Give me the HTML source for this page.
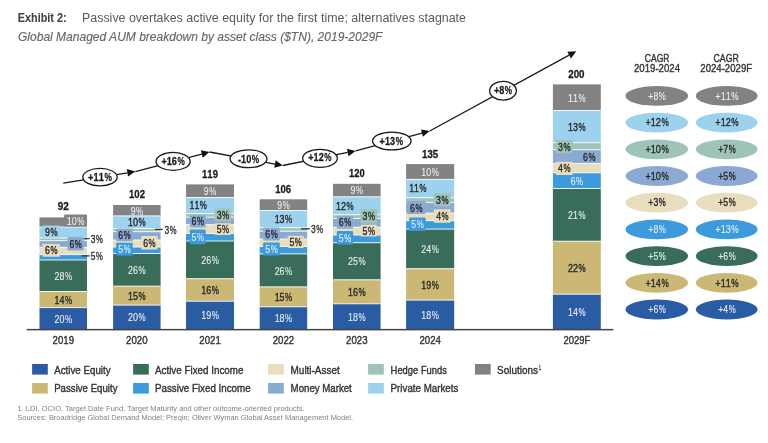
<!DOCTYPE html>
<html><head><meta charset="utf-8"><style>html,body{margin:0;padding:0;background:#fff}svg{display:block}#w{will-change:transform}text{font-family:"Liberation Sans",sans-serif;stroke-linejoin:round}</style></head>
<body><div id="w"><svg width="768" height="443" viewBox="0 0 768 443">
<g font-family="Liberation Sans">
<text x="17.80" y="21.70" font-size="12" fill="#444" font-weight="bold" stroke="#444" stroke-width="0.1" textLength="48.81" lengthAdjust="spacingAndGlyphs">Exhibit 2:</text>
<text x="82.00" y="21.70" font-size="12.2" fill="#5a5a5a" textLength="383.98" lengthAdjust="spacingAndGlyphs">Passive overtakes active equity for the first time; alternatives stagnate</text>
<text x="18.00" y="40.80" font-size="12.6" fill="#666" font-style="italic" stroke="#666" stroke-width="0.15" textLength="364.42" lengthAdjust="spacingAndGlyphs">Global Managed AUM breakdown by asset class ($TN), 2019-2029F</text>
<rect x="39.50" y="217.40" width="47.50" height="9.60" fill="#828282"/>
<rect x="39.50" y="227.00" width="47.50" height="11.00" fill="#9DD2EE"/>
<rect x="39.50" y="238.00" width="47.50" height="2.60" fill="#9EC4B8"/>
<rect x="39.50" y="240.60" width="47.50" height="6.80" fill="#8AAAD3"/>
<rect x="39.50" y="247.40" width="47.50" height="7.20" fill="#E8DEBE"/>
<rect x="39.50" y="254.60" width="47.50" height="5.40" fill="#3C9BDD"/>
<rect x="39.50" y="260.00" width="47.50" height="31.50" fill="#3A6C5A"/>
<rect x="39.50" y="291.50" width="47.50" height="16.10" fill="#CBB874"/>
<rect x="39.50" y="307.60" width="47.50" height="21.80" fill="#2A5CA4"/>
<rect x="39.50" y="226.50" width="47.50" height="1" fill="#fff" opacity="0.85"/>
<rect x="39.50" y="237.50" width="47.50" height="1" fill="#fff" opacity="0.85"/>
<rect x="39.50" y="240.10" width="47.50" height="1" fill="#fff" opacity="0.85"/>
<rect x="39.50" y="246.90" width="47.50" height="1" fill="#fff" opacity="0.85"/>
<rect x="39.50" y="254.10" width="47.50" height="1" fill="#fff" opacity="0.85"/>
<rect x="39.50" y="259.50" width="47.50" height="1" fill="#fff" opacity="0.85"/>
<rect x="39.50" y="291.00" width="47.50" height="1" fill="#fff" opacity="0.85"/>
<rect x="39.50" y="307.10" width="47.50" height="1" fill="#fff" opacity="0.85"/>
<rect x="113.10" y="205.00" width="47.50" height="10.90" fill="#828282"/>
<rect x="113.10" y="215.90" width="47.50" height="12.60" fill="#9DD2EE"/>
<rect x="113.10" y="228.50" width="47.50" height="3.20" fill="#9EC4B8"/>
<rect x="113.10" y="231.70" width="47.50" height="8.30" fill="#8AAAD3"/>
<rect x="113.10" y="240.00" width="47.50" height="7.00" fill="#E8DEBE"/>
<rect x="113.10" y="247.00" width="47.50" height="6.50" fill="#3C9BDD"/>
<rect x="113.10" y="253.50" width="47.50" height="32.60" fill="#3A6C5A"/>
<rect x="113.10" y="286.10" width="47.50" height="19.00" fill="#CBB874"/>
<rect x="113.10" y="305.10" width="47.50" height="24.30" fill="#2A5CA4"/>
<rect x="113.10" y="215.40" width="47.50" height="1" fill="#fff" opacity="0.85"/>
<rect x="113.10" y="228.00" width="47.50" height="1" fill="#fff" opacity="0.85"/>
<rect x="113.10" y="231.20" width="47.50" height="1" fill="#fff" opacity="0.85"/>
<rect x="113.10" y="239.50" width="47.50" height="1" fill="#fff" opacity="0.85"/>
<rect x="113.10" y="246.50" width="47.50" height="1" fill="#fff" opacity="0.85"/>
<rect x="113.10" y="253.00" width="47.50" height="1" fill="#fff" opacity="0.85"/>
<rect x="113.10" y="285.60" width="47.50" height="1" fill="#fff" opacity="0.85"/>
<rect x="113.10" y="304.60" width="47.50" height="1" fill="#fff" opacity="0.85"/>
<rect x="186.00" y="184.40" width="48.00" height="13.10" fill="#828282"/>
<rect x="186.00" y="197.50" width="48.00" height="16.10" fill="#9DD2EE"/>
<rect x="186.00" y="213.60" width="48.00" height="3.60" fill="#9EC4B8"/>
<rect x="186.00" y="217.20" width="48.00" height="7.50" fill="#8AAAD3"/>
<rect x="186.00" y="224.70" width="48.00" height="8.80" fill="#E8DEBE"/>
<rect x="186.00" y="233.50" width="48.00" height="7.50" fill="#3C9BDD"/>
<rect x="186.00" y="241.00" width="48.00" height="37.70" fill="#3A6C5A"/>
<rect x="186.00" y="278.70" width="48.00" height="22.50" fill="#CBB874"/>
<rect x="186.00" y="301.20" width="48.00" height="28.20" fill="#2A5CA4"/>
<rect x="186.00" y="197.00" width="48.00" height="1" fill="#fff" opacity="0.85"/>
<rect x="186.00" y="213.10" width="48.00" height="1" fill="#fff" opacity="0.85"/>
<rect x="186.00" y="216.70" width="48.00" height="1" fill="#fff" opacity="0.85"/>
<rect x="186.00" y="224.20" width="48.00" height="1" fill="#fff" opacity="0.85"/>
<rect x="186.00" y="233.00" width="48.00" height="1" fill="#fff" opacity="0.85"/>
<rect x="186.00" y="240.50" width="48.00" height="1" fill="#fff" opacity="0.85"/>
<rect x="186.00" y="278.20" width="48.00" height="1" fill="#fff" opacity="0.85"/>
<rect x="186.00" y="300.70" width="48.00" height="1" fill="#fff" opacity="0.85"/>
<rect x="259.70" y="199.30" width="47.50" height="11.20" fill="#828282"/>
<rect x="259.70" y="210.50" width="47.50" height="17.20" fill="#9DD2EE"/>
<rect x="259.70" y="227.70" width="47.50" height="3.50" fill="#9EC4B8"/>
<rect x="259.70" y="231.20" width="47.50" height="7.80" fill="#8AAAD3"/>
<rect x="259.70" y="239.00" width="47.50" height="7.50" fill="#E8DEBE"/>
<rect x="259.70" y="246.50" width="47.50" height="7.40" fill="#3C9BDD"/>
<rect x="259.70" y="253.90" width="47.50" height="33.00" fill="#3A6C5A"/>
<rect x="259.70" y="286.90" width="47.50" height="19.90" fill="#CBB874"/>
<rect x="259.70" y="306.80" width="47.50" height="22.60" fill="#2A5CA4"/>
<rect x="259.70" y="210.00" width="47.50" height="1" fill="#fff" opacity="0.85"/>
<rect x="259.70" y="227.20" width="47.50" height="1" fill="#fff" opacity="0.85"/>
<rect x="259.70" y="230.70" width="47.50" height="1" fill="#fff" opacity="0.85"/>
<rect x="259.70" y="238.50" width="47.50" height="1" fill="#fff" opacity="0.85"/>
<rect x="259.70" y="246.00" width="47.50" height="1" fill="#fff" opacity="0.85"/>
<rect x="259.70" y="253.40" width="47.50" height="1" fill="#fff" opacity="0.85"/>
<rect x="259.70" y="286.40" width="47.50" height="1" fill="#fff" opacity="0.85"/>
<rect x="259.70" y="306.30" width="47.50" height="1" fill="#fff" opacity="0.85"/>
<rect x="333.00" y="183.80" width="47.60" height="13.00" fill="#828282"/>
<rect x="333.00" y="196.80" width="47.60" height="17.90" fill="#9DD2EE"/>
<rect x="333.00" y="214.70" width="47.60" height="3.80" fill="#9EC4B8"/>
<rect x="333.00" y="218.50" width="47.60" height="8.80" fill="#8AAAD3"/>
<rect x="333.00" y="227.30" width="47.60" height="7.70" fill="#E8DEBE"/>
<rect x="333.00" y="235.00" width="47.60" height="7.70" fill="#3C9BDD"/>
<rect x="333.00" y="242.70" width="47.60" height="37.10" fill="#3A6C5A"/>
<rect x="333.00" y="279.80" width="47.60" height="24.00" fill="#CBB874"/>
<rect x="333.00" y="303.80" width="47.60" height="25.60" fill="#2A5CA4"/>
<rect x="333.00" y="196.30" width="47.60" height="1" fill="#fff" opacity="0.85"/>
<rect x="333.00" y="214.20" width="47.60" height="1" fill="#fff" opacity="0.85"/>
<rect x="333.00" y="218.00" width="47.60" height="1" fill="#fff" opacity="0.85"/>
<rect x="333.00" y="226.80" width="47.60" height="1" fill="#fff" opacity="0.85"/>
<rect x="333.00" y="234.50" width="47.60" height="1" fill="#fff" opacity="0.85"/>
<rect x="333.00" y="242.20" width="47.60" height="1" fill="#fff" opacity="0.85"/>
<rect x="333.00" y="279.30" width="47.60" height="1" fill="#fff" opacity="0.85"/>
<rect x="333.00" y="303.30" width="47.60" height="1" fill="#fff" opacity="0.85"/>
<rect x="406.10" y="164.10" width="48.10" height="15.30" fill="#828282"/>
<rect x="406.10" y="179.40" width="48.10" height="18.30" fill="#9DD2EE"/>
<rect x="406.10" y="197.70" width="48.10" height="4.70" fill="#9EC4B8"/>
<rect x="406.10" y="202.40" width="48.10" height="10.70" fill="#8AAAD3"/>
<rect x="406.10" y="213.10" width="48.10" height="7.60" fill="#E8DEBE"/>
<rect x="406.10" y="220.70" width="48.10" height="8.40" fill="#3C9BDD"/>
<rect x="406.10" y="229.10" width="48.10" height="39.60" fill="#3A6C5A"/>
<rect x="406.10" y="268.70" width="48.10" height="31.40" fill="#CBB874"/>
<rect x="406.10" y="300.10" width="48.10" height="29.30" fill="#2A5CA4"/>
<rect x="406.10" y="178.90" width="48.10" height="1" fill="#fff" opacity="0.85"/>
<rect x="406.10" y="197.20" width="48.10" height="1" fill="#fff" opacity="0.85"/>
<rect x="406.10" y="201.90" width="48.10" height="1" fill="#fff" opacity="0.85"/>
<rect x="406.10" y="212.60" width="48.10" height="1" fill="#fff" opacity="0.85"/>
<rect x="406.10" y="220.20" width="48.10" height="1" fill="#fff" opacity="0.85"/>
<rect x="406.10" y="228.60" width="48.10" height="1" fill="#fff" opacity="0.85"/>
<rect x="406.10" y="268.20" width="48.10" height="1" fill="#fff" opacity="0.85"/>
<rect x="406.10" y="299.60" width="48.10" height="1" fill="#fff" opacity="0.85"/>
<rect x="552.90" y="84.40" width="47.90" height="26.10" fill="#828282"/>
<rect x="552.90" y="110.50" width="47.90" height="32.20" fill="#9DD2EE"/>
<rect x="552.90" y="142.70" width="47.90" height="7.00" fill="#9EC4B8"/>
<rect x="552.90" y="149.70" width="47.90" height="13.80" fill="#8AAAD3"/>
<rect x="552.90" y="163.50" width="47.90" height="9.30" fill="#E8DEBE"/>
<rect x="552.90" y="172.80" width="47.90" height="15.70" fill="#3C9BDD"/>
<rect x="552.90" y="188.50" width="47.90" height="52.70" fill="#3A6C5A"/>
<rect x="552.90" y="241.20" width="47.90" height="53.00" fill="#CBB874"/>
<rect x="552.90" y="294.20" width="47.90" height="35.20" fill="#2A5CA4"/>
<rect x="552.90" y="110.00" width="47.90" height="1" fill="#fff" opacity="0.85"/>
<rect x="552.90" y="142.20" width="47.90" height="1" fill="#fff" opacity="0.85"/>
<rect x="552.90" y="149.20" width="47.90" height="1" fill="#fff" opacity="0.85"/>
<rect x="552.90" y="163.00" width="47.90" height="1" fill="#fff" opacity="0.85"/>
<rect x="552.90" y="172.30" width="47.90" height="1" fill="#fff" opacity="0.85"/>
<rect x="552.90" y="188.00" width="47.90" height="1" fill="#fff" opacity="0.85"/>
<rect x="552.90" y="240.70" width="47.90" height="1" fill="#fff" opacity="0.85"/>
<rect x="552.90" y="293.70" width="47.90" height="1" fill="#fff" opacity="0.85"/>
<rect x="26.80" y="328.90" width="586.60" height="1.50" fill="#444"/>
<text x="57.70" y="210.00" font-size="11" fill="#1a1a1a" font-weight="bold" stroke="#1a1a1a" stroke-width="0.3" textLength="5.56" lengthAdjust="spacingAndGlyphs">9</text>
<text x="63.26" y="210.00" font-size="11" fill="#1a1a1a" font-weight="bold" stroke="#1a1a1a" stroke-width="0.3" textLength="5.56" lengthAdjust="spacingAndGlyphs">2</text>
<text x="129.00" y="197.70" font-size="11" fill="#1a1a1a" font-weight="bold" stroke="#1a1a1a" stroke-width="0.3" textLength="5.34" lengthAdjust="spacingAndGlyphs">1</text>
<text x="134.34" y="197.70" font-size="11" fill="#1a1a1a" font-weight="bold" stroke="#1a1a1a" stroke-width="0.3" textLength="5.34" lengthAdjust="spacingAndGlyphs">0</text>
<text x="139.67" y="197.70" font-size="11" fill="#1a1a1a" font-weight="bold" stroke="#1a1a1a" stroke-width="0.3" textLength="5.34" lengthAdjust="spacingAndGlyphs">2</text>
<text x="202.10" y="177.60" font-size="11" fill="#1a1a1a" font-weight="bold" stroke="#1a1a1a" stroke-width="0.3" textLength="5.27" lengthAdjust="spacingAndGlyphs">1</text>
<text x="207.37" y="177.60" font-size="11" fill="#1a1a1a" font-weight="bold" stroke="#1a1a1a" stroke-width="0.3" textLength="5.27" lengthAdjust="spacingAndGlyphs">1</text>
<text x="212.64" y="177.60" font-size="11" fill="#1a1a1a" font-weight="bold" stroke="#1a1a1a" stroke-width="0.3" textLength="5.27" lengthAdjust="spacingAndGlyphs">9</text>
<text x="275.20" y="192.90" font-size="11" fill="#1a1a1a" font-weight="bold" stroke="#1a1a1a" stroke-width="0.3" textLength="5.30" lengthAdjust="spacingAndGlyphs">1</text>
<text x="280.50" y="192.90" font-size="11" fill="#1a1a1a" font-weight="bold" stroke="#1a1a1a" stroke-width="0.3" textLength="5.30" lengthAdjust="spacingAndGlyphs">0</text>
<text x="285.81" y="192.90" font-size="11" fill="#1a1a1a" font-weight="bold" stroke="#1a1a1a" stroke-width="0.3" textLength="5.30" lengthAdjust="spacingAndGlyphs">6</text>
<text x="349.10" y="176.60" font-size="11" fill="#1a1a1a" font-weight="bold" stroke="#1a1a1a" stroke-width="0.3" textLength="5.20" lengthAdjust="spacingAndGlyphs">1</text>
<text x="354.30" y="176.60" font-size="11" fill="#1a1a1a" font-weight="bold" stroke="#1a1a1a" stroke-width="0.3" textLength="5.20" lengthAdjust="spacingAndGlyphs">2</text>
<text x="359.51" y="176.60" font-size="11" fill="#1a1a1a" font-weight="bold" stroke="#1a1a1a" stroke-width="0.3" textLength="5.20" lengthAdjust="spacingAndGlyphs">0</text>
<text x="422.00" y="158.00" font-size="11" fill="#1a1a1a" font-weight="bold" stroke="#1a1a1a" stroke-width="0.3" textLength="5.40" lengthAdjust="spacingAndGlyphs">1</text>
<text x="427.40" y="158.00" font-size="11" fill="#1a1a1a" font-weight="bold" stroke="#1a1a1a" stroke-width="0.3" textLength="5.40" lengthAdjust="spacingAndGlyphs">3</text>
<text x="432.81" y="158.00" font-size="11" fill="#1a1a1a" font-weight="bold" stroke="#1a1a1a" stroke-width="0.3" textLength="5.40" lengthAdjust="spacingAndGlyphs">5</text>
<text x="568.20" y="78.40" font-size="11" fill="#1a1a1a" font-weight="bold" stroke="#1a1a1a" stroke-width="0.3" textLength="5.44" lengthAdjust="spacingAndGlyphs">2</text>
<text x="573.64" y="78.40" font-size="11" fill="#1a1a1a" font-weight="bold" stroke="#1a1a1a" stroke-width="0.3" textLength="5.44" lengthAdjust="spacingAndGlyphs">0</text>
<text x="579.07" y="78.40" font-size="11" fill="#1a1a1a" font-weight="bold" stroke="#1a1a1a" stroke-width="0.3" textLength="5.44" lengthAdjust="spacingAndGlyphs">0</text>
<text x="52.50" y="343.90" font-size="11.4" fill="#333" stroke="#333" stroke-width="0.4" textLength="5.38" lengthAdjust="spacingAndGlyphs">2</text>
<text x="57.88" y="343.90" font-size="11.4" fill="#333" stroke="#333" stroke-width="0.4" textLength="5.38" lengthAdjust="spacingAndGlyphs">0</text>
<text x="63.26" y="343.90" font-size="11.4" fill="#333" stroke="#333" stroke-width="0.4" textLength="5.38" lengthAdjust="spacingAndGlyphs">1</text>
<text x="68.63" y="343.90" font-size="11.4" fill="#333" stroke="#333" stroke-width="0.4" textLength="5.38" lengthAdjust="spacingAndGlyphs">9</text>
<text x="126.10" y="343.90" font-size="11.4" fill="#333" stroke="#333" stroke-width="0.4" textLength="5.38" lengthAdjust="spacingAndGlyphs">2</text>
<text x="131.48" y="343.90" font-size="11.4" fill="#333" stroke="#333" stroke-width="0.4" textLength="5.38" lengthAdjust="spacingAndGlyphs">0</text>
<text x="136.86" y="343.90" font-size="11.4" fill="#333" stroke="#333" stroke-width="0.4" textLength="5.38" lengthAdjust="spacingAndGlyphs">2</text>
<text x="142.23" y="343.90" font-size="11.4" fill="#333" stroke="#333" stroke-width="0.4" textLength="5.38" lengthAdjust="spacingAndGlyphs">0</text>
<text x="199.25" y="343.90" font-size="11.4" fill="#333" stroke="#333" stroke-width="0.4" textLength="5.38" lengthAdjust="spacingAndGlyphs">2</text>
<text x="204.63" y="343.90" font-size="11.4" fill="#333" stroke="#333" stroke-width="0.4" textLength="5.38" lengthAdjust="spacingAndGlyphs">0</text>
<text x="210.01" y="343.90" font-size="11.4" fill="#333" stroke="#333" stroke-width="0.4" textLength="5.38" lengthAdjust="spacingAndGlyphs">2</text>
<text x="215.38" y="343.90" font-size="11.4" fill="#333" stroke="#333" stroke-width="0.4" textLength="5.38" lengthAdjust="spacingAndGlyphs">1</text>
<text x="272.70" y="343.90" font-size="11.4" fill="#333" stroke="#333" stroke-width="0.4" textLength="5.38" lengthAdjust="spacingAndGlyphs">2</text>
<text x="278.08" y="343.90" font-size="11.4" fill="#333" stroke="#333" stroke-width="0.4" textLength="5.38" lengthAdjust="spacingAndGlyphs">0</text>
<text x="283.46" y="343.90" font-size="11.4" fill="#333" stroke="#333" stroke-width="0.4" textLength="5.38" lengthAdjust="spacingAndGlyphs">2</text>
<text x="288.83" y="343.90" font-size="11.4" fill="#333" stroke="#333" stroke-width="0.4" textLength="5.38" lengthAdjust="spacingAndGlyphs">2</text>
<text x="346.05" y="343.90" font-size="11.4" fill="#333" stroke="#333" stroke-width="0.4" textLength="5.38" lengthAdjust="spacingAndGlyphs">2</text>
<text x="351.43" y="343.90" font-size="11.4" fill="#333" stroke="#333" stroke-width="0.4" textLength="5.38" lengthAdjust="spacingAndGlyphs">0</text>
<text x="356.81" y="343.90" font-size="11.4" fill="#333" stroke="#333" stroke-width="0.4" textLength="5.38" lengthAdjust="spacingAndGlyphs">2</text>
<text x="362.18" y="343.90" font-size="11.4" fill="#333" stroke="#333" stroke-width="0.4" textLength="5.38" lengthAdjust="spacingAndGlyphs">3</text>
<text x="419.40" y="343.90" font-size="11.4" fill="#333" stroke="#333" stroke-width="0.4" textLength="5.38" lengthAdjust="spacingAndGlyphs">2</text>
<text x="424.78" y="343.90" font-size="11.4" fill="#333" stroke="#333" stroke-width="0.4" textLength="5.38" lengthAdjust="spacingAndGlyphs">0</text>
<text x="430.16" y="343.90" font-size="11.4" fill="#333" stroke="#333" stroke-width="0.4" textLength="5.38" lengthAdjust="spacingAndGlyphs">2</text>
<text x="435.53" y="343.90" font-size="11.4" fill="#333" stroke="#333" stroke-width="0.4" textLength="5.38" lengthAdjust="spacingAndGlyphs">4</text>
<text x="563.45" y="343.90" font-size="11.4" fill="#333" stroke="#333" stroke-width="0.4" textLength="5.26" lengthAdjust="spacingAndGlyphs">2</text>
<text x="568.71" y="343.90" font-size="11.4" fill="#333" stroke="#333" stroke-width="0.4" textLength="5.26" lengthAdjust="spacingAndGlyphs">0</text>
<text x="573.97" y="343.90" font-size="11.4" fill="#333" stroke="#333" stroke-width="0.4" textLength="5.26" lengthAdjust="spacingAndGlyphs">2</text>
<text x="579.22" y="343.90" font-size="11.4" fill="#333" stroke="#333" stroke-width="0.4" textLength="5.26" lengthAdjust="spacingAndGlyphs">9</text>
<text x="584.48" y="343.90" font-size="11.4" fill="#333" stroke="#333" stroke-width="0.4" textLength="5.78" lengthAdjust="spacingAndGlyphs">F</text>
<text x="54.45" y="279.85" font-size="11.4" fill="#e6eef5" stroke="#e6eef5" stroke-width="0.12" textLength="4.95" lengthAdjust="spacingAndGlyphs">2</text>
<text x="59.40" y="279.85" font-size="11.4" fill="#e6eef5" stroke="#e6eef5" stroke-width="0.12" textLength="4.95" lengthAdjust="spacingAndGlyphs">8</text>
<text x="64.92" y="279.85" font-size="11.4" fill="#e6eef5" stroke="#e6eef5" stroke-width="0.12" textLength="7.13" lengthAdjust="spacingAndGlyphs">%</text>
<text x="54.45" y="303.65" font-size="11.4" fill="#2b2b2b" stroke="#2b2b2b" stroke-width="0.4" textLength="4.95" lengthAdjust="spacingAndGlyphs">1</text>
<text x="59.40" y="303.65" font-size="11.4" fill="#2b2b2b" stroke="#2b2b2b" stroke-width="0.4" textLength="4.95" lengthAdjust="spacingAndGlyphs">4</text>
<text x="64.92" y="303.65" font-size="11.4" fill="#2b2b2b" stroke="#2b2b2b" stroke-width="0.4" textLength="7.13" lengthAdjust="spacingAndGlyphs">%</text>
<text x="54.45" y="322.60" font-size="11.4" fill="#e6eef5" stroke="#e6eef5" stroke-width="0.12" textLength="4.95" lengthAdjust="spacingAndGlyphs">2</text>
<text x="59.40" y="322.60" font-size="11.4" fill="#e6eef5" stroke="#e6eef5" stroke-width="0.12" textLength="4.95" lengthAdjust="spacingAndGlyphs">0</text>
<text x="64.92" y="322.60" font-size="11.4" fill="#e6eef5" stroke="#e6eef5" stroke-width="0.12" textLength="7.13" lengthAdjust="spacingAndGlyphs">%</text>
<text x="128.05" y="273.90" font-size="11.4" fill="#e6eef5" stroke="#e6eef5" stroke-width="0.12" textLength="4.95" lengthAdjust="spacingAndGlyphs">2</text>
<text x="133.00" y="273.90" font-size="11.4" fill="#e6eef5" stroke="#e6eef5" stroke-width="0.12" textLength="4.95" lengthAdjust="spacingAndGlyphs">6</text>
<text x="138.52" y="273.90" font-size="11.4" fill="#e6eef5" stroke="#e6eef5" stroke-width="0.12" textLength="7.13" lengthAdjust="spacingAndGlyphs">%</text>
<text x="128.05" y="299.70" font-size="11.4" fill="#2b2b2b" stroke="#2b2b2b" stroke-width="0.4" textLength="4.95" lengthAdjust="spacingAndGlyphs">1</text>
<text x="133.00" y="299.70" font-size="11.4" fill="#2b2b2b" stroke="#2b2b2b" stroke-width="0.4" textLength="4.95" lengthAdjust="spacingAndGlyphs">5</text>
<text x="138.52" y="299.70" font-size="11.4" fill="#2b2b2b" stroke="#2b2b2b" stroke-width="0.4" textLength="7.13" lengthAdjust="spacingAndGlyphs">%</text>
<text x="128.05" y="321.35" font-size="11.4" fill="#e6eef5" stroke="#e6eef5" stroke-width="0.12" textLength="4.95" lengthAdjust="spacingAndGlyphs">2</text>
<text x="133.00" y="321.35" font-size="11.4" fill="#e6eef5" stroke="#e6eef5" stroke-width="0.12" textLength="4.95" lengthAdjust="spacingAndGlyphs">0</text>
<text x="138.52" y="321.35" font-size="11.4" fill="#e6eef5" stroke="#e6eef5" stroke-width="0.12" textLength="7.13" lengthAdjust="spacingAndGlyphs">%</text>
<text x="201.20" y="263.95" font-size="11.4" fill="#e6eef5" stroke="#e6eef5" stroke-width="0.12" textLength="4.95" lengthAdjust="spacingAndGlyphs">2</text>
<text x="206.15" y="263.95" font-size="11.4" fill="#e6eef5" stroke="#e6eef5" stroke-width="0.12" textLength="4.95" lengthAdjust="spacingAndGlyphs">6</text>
<text x="211.67" y="263.95" font-size="11.4" fill="#e6eef5" stroke="#e6eef5" stroke-width="0.12" textLength="7.13" lengthAdjust="spacingAndGlyphs">%</text>
<text x="201.20" y="294.05" font-size="11.4" fill="#2b2b2b" stroke="#2b2b2b" stroke-width="0.4" textLength="4.95" lengthAdjust="spacingAndGlyphs">1</text>
<text x="206.15" y="294.05" font-size="11.4" fill="#2b2b2b" stroke="#2b2b2b" stroke-width="0.4" textLength="4.95" lengthAdjust="spacingAndGlyphs">6</text>
<text x="211.67" y="294.05" font-size="11.4" fill="#2b2b2b" stroke="#2b2b2b" stroke-width="0.4" textLength="7.13" lengthAdjust="spacingAndGlyphs">%</text>
<text x="201.20" y="319.40" font-size="11.4" fill="#e6eef5" stroke="#e6eef5" stroke-width="0.12" textLength="4.95" lengthAdjust="spacingAndGlyphs">1</text>
<text x="206.15" y="319.40" font-size="11.4" fill="#e6eef5" stroke="#e6eef5" stroke-width="0.12" textLength="4.95" lengthAdjust="spacingAndGlyphs">9</text>
<text x="211.67" y="319.40" font-size="11.4" fill="#e6eef5" stroke="#e6eef5" stroke-width="0.12" textLength="7.13" lengthAdjust="spacingAndGlyphs">%</text>
<text x="274.65" y="274.50" font-size="11.4" fill="#e6eef5" stroke="#e6eef5" stroke-width="0.12" textLength="4.95" lengthAdjust="spacingAndGlyphs">2</text>
<text x="279.60" y="274.50" font-size="11.4" fill="#e6eef5" stroke="#e6eef5" stroke-width="0.12" textLength="4.95" lengthAdjust="spacingAndGlyphs">6</text>
<text x="285.12" y="274.50" font-size="11.4" fill="#e6eef5" stroke="#e6eef5" stroke-width="0.12" textLength="7.13" lengthAdjust="spacingAndGlyphs">%</text>
<text x="274.65" y="300.95" font-size="11.4" fill="#2b2b2b" stroke="#2b2b2b" stroke-width="0.4" textLength="4.95" lengthAdjust="spacingAndGlyphs">1</text>
<text x="279.60" y="300.95" font-size="11.4" fill="#2b2b2b" stroke="#2b2b2b" stroke-width="0.4" textLength="4.95" lengthAdjust="spacingAndGlyphs">5</text>
<text x="285.12" y="300.95" font-size="11.4" fill="#2b2b2b" stroke="#2b2b2b" stroke-width="0.4" textLength="7.13" lengthAdjust="spacingAndGlyphs">%</text>
<text x="274.65" y="322.20" font-size="11.4" fill="#e6eef5" stroke="#e6eef5" stroke-width="0.12" textLength="4.95" lengthAdjust="spacingAndGlyphs">1</text>
<text x="279.60" y="322.20" font-size="11.4" fill="#e6eef5" stroke="#e6eef5" stroke-width="0.12" textLength="4.95" lengthAdjust="spacingAndGlyphs">8</text>
<text x="285.12" y="322.20" font-size="11.4" fill="#e6eef5" stroke="#e6eef5" stroke-width="0.12" textLength="7.13" lengthAdjust="spacingAndGlyphs">%</text>
<text x="348.00" y="265.35" font-size="11.4" fill="#e6eef5" stroke="#e6eef5" stroke-width="0.12" textLength="4.95" lengthAdjust="spacingAndGlyphs">2</text>
<text x="352.95" y="265.35" font-size="11.4" fill="#e6eef5" stroke="#e6eef5" stroke-width="0.12" textLength="4.95" lengthAdjust="spacingAndGlyphs">5</text>
<text x="358.47" y="265.35" font-size="11.4" fill="#e6eef5" stroke="#e6eef5" stroke-width="0.12" textLength="7.13" lengthAdjust="spacingAndGlyphs">%</text>
<text x="348.00" y="295.90" font-size="11.4" fill="#2b2b2b" stroke="#2b2b2b" stroke-width="0.4" textLength="4.95" lengthAdjust="spacingAndGlyphs">1</text>
<text x="352.95" y="295.90" font-size="11.4" fill="#2b2b2b" stroke="#2b2b2b" stroke-width="0.4" textLength="4.95" lengthAdjust="spacingAndGlyphs">6</text>
<text x="358.47" y="295.90" font-size="11.4" fill="#2b2b2b" stroke="#2b2b2b" stroke-width="0.4" textLength="7.13" lengthAdjust="spacingAndGlyphs">%</text>
<text x="348.00" y="320.70" font-size="11.4" fill="#e6eef5" stroke="#e6eef5" stroke-width="0.12" textLength="4.95" lengthAdjust="spacingAndGlyphs">1</text>
<text x="352.95" y="320.70" font-size="11.4" fill="#e6eef5" stroke="#e6eef5" stroke-width="0.12" textLength="4.95" lengthAdjust="spacingAndGlyphs">8</text>
<text x="358.47" y="320.70" font-size="11.4" fill="#e6eef5" stroke="#e6eef5" stroke-width="0.12" textLength="7.13" lengthAdjust="spacingAndGlyphs">%</text>
<text x="421.35" y="253.00" font-size="11.4" fill="#e6eef5" stroke="#e6eef5" stroke-width="0.12" textLength="4.95" lengthAdjust="spacingAndGlyphs">2</text>
<text x="426.30" y="253.00" font-size="11.4" fill="#e6eef5" stroke="#e6eef5" stroke-width="0.12" textLength="4.95" lengthAdjust="spacingAndGlyphs">4</text>
<text x="431.82" y="253.00" font-size="11.4" fill="#e6eef5" stroke="#e6eef5" stroke-width="0.12" textLength="7.13" lengthAdjust="spacingAndGlyphs">%</text>
<text x="421.35" y="288.50" font-size="11.4" fill="#2b2b2b" stroke="#2b2b2b" stroke-width="0.4" textLength="4.95" lengthAdjust="spacingAndGlyphs">1</text>
<text x="426.30" y="288.50" font-size="11.4" fill="#2b2b2b" stroke="#2b2b2b" stroke-width="0.4" textLength="4.95" lengthAdjust="spacingAndGlyphs">9</text>
<text x="431.82" y="288.50" font-size="11.4" fill="#2b2b2b" stroke="#2b2b2b" stroke-width="0.4" textLength="7.13" lengthAdjust="spacingAndGlyphs">%</text>
<text x="421.35" y="318.85" font-size="11.4" fill="#e6eef5" stroke="#e6eef5" stroke-width="0.12" textLength="4.95" lengthAdjust="spacingAndGlyphs">1</text>
<text x="426.30" y="318.85" font-size="11.4" fill="#e6eef5" stroke="#e6eef5" stroke-width="0.12" textLength="4.95" lengthAdjust="spacingAndGlyphs">8</text>
<text x="431.82" y="318.85" font-size="11.4" fill="#e6eef5" stroke="#e6eef5" stroke-width="0.12" textLength="7.13" lengthAdjust="spacingAndGlyphs">%</text>
<text x="568.05" y="218.95" font-size="11.4" fill="#e6eef5" stroke="#e6eef5" stroke-width="0.12" textLength="4.95" lengthAdjust="spacingAndGlyphs">2</text>
<text x="573.00" y="218.95" font-size="11.4" fill="#e6eef5" stroke="#e6eef5" stroke-width="0.12" textLength="4.95" lengthAdjust="spacingAndGlyphs">1</text>
<text x="578.52" y="218.95" font-size="11.4" fill="#e6eef5" stroke="#e6eef5" stroke-width="0.12" textLength="7.13" lengthAdjust="spacingAndGlyphs">%</text>
<text x="568.05" y="271.80" font-size="11.4" fill="#2b2b2b" stroke="#2b2b2b" stroke-width="0.4" textLength="4.95" lengthAdjust="spacingAndGlyphs">2</text>
<text x="573.00" y="271.80" font-size="11.4" fill="#2b2b2b" stroke="#2b2b2b" stroke-width="0.4" textLength="4.95" lengthAdjust="spacingAndGlyphs">2</text>
<text x="578.52" y="271.80" font-size="11.4" fill="#2b2b2b" stroke="#2b2b2b" stroke-width="0.4" textLength="7.13" lengthAdjust="spacingAndGlyphs">%</text>
<text x="568.05" y="315.90" font-size="11.4" fill="#e6eef5" stroke="#e6eef5" stroke-width="0.12" textLength="4.95" lengthAdjust="spacingAndGlyphs">1</text>
<text x="573.00" y="315.90" font-size="11.4" fill="#e6eef5" stroke="#e6eef5" stroke-width="0.12" textLength="4.95" lengthAdjust="spacingAndGlyphs">4</text>
<text x="578.52" y="315.90" font-size="11.4" fill="#e6eef5" stroke="#e6eef5" stroke-width="0.12" textLength="7.13" lengthAdjust="spacingAndGlyphs">%</text>
<rect x="64.10" y="214.60" width="22.90" height="11.90" fill="#828282" rx="1"/>
<text x="66.75" y="224.65" font-size="11.4" fill="#e6eef5" stroke="#e6eef5" stroke-width="0.12" textLength="4.95" lengthAdjust="spacingAndGlyphs">1</text>
<text x="71.70" y="224.65" font-size="11.4" fill="#e6eef5" stroke="#e6eef5" stroke-width="0.12" textLength="4.95" lengthAdjust="spacingAndGlyphs">0</text>
<text x="77.22" y="224.65" font-size="11.4" fill="#e6eef5" stroke="#e6eef5" stroke-width="0.12" textLength="7.13" lengthAdjust="spacingAndGlyphs">%</text>
<rect x="42.50" y="225.60" width="17.50" height="11.90" fill="#9DD2EE" rx="1"/>
<text x="45.05" y="235.65" font-size="11.4" fill="#2b2b2b" stroke="#2b2b2b" stroke-width="0.4" textLength="4.86" lengthAdjust="spacingAndGlyphs">9</text>
<text x="50.45" y="235.65" font-size="11.4" fill="#2b2b2b" stroke="#2b2b2b" stroke-width="0.4" textLength="6.99" lengthAdjust="spacingAndGlyphs">%</text>
<rect x="67.50" y="237.00" width="16.30" height="13.60" fill="#8AAAD3" rx="1"/>
<text x="69.45" y="247.90" font-size="11.4" fill="#2b2b2b" stroke="#2b2b2b" stroke-width="0.4" textLength="4.86" lengthAdjust="spacingAndGlyphs">6</text>
<text x="74.85" y="247.90" font-size="11.4" fill="#2b2b2b" stroke="#2b2b2b" stroke-width="0.4" textLength="6.99" lengthAdjust="spacingAndGlyphs">%</text>
<rect x="42.50" y="243.90" width="17.50" height="12.80" fill="#E8DEBE" rx="1"/>
<text x="45.05" y="254.40" font-size="11.4" fill="#2b2b2b" stroke="#2b2b2b" stroke-width="0.4" textLength="4.86" lengthAdjust="spacingAndGlyphs">6</text>
<text x="50.45" y="254.40" font-size="11.4" fill="#2b2b2b" stroke="#2b2b2b" stroke-width="0.4" textLength="6.99" lengthAdjust="spacingAndGlyphs">%</text>
<text x="130.65" y="214.55" font-size="11.4" fill="#e6eef5" stroke="#e6eef5" stroke-width="0.12" textLength="4.86" lengthAdjust="spacingAndGlyphs">9</text>
<text x="136.05" y="214.55" font-size="11.4" fill="#e6eef5" stroke="#e6eef5" stroke-width="0.12" textLength="6.99" lengthAdjust="spacingAndGlyphs">%</text>
<text x="128.05" y="226.30" font-size="11.4" fill="#2b2b2b" stroke="#2b2b2b" stroke-width="0.4" textLength="4.95" lengthAdjust="spacingAndGlyphs">1</text>
<text x="133.00" y="226.30" font-size="11.4" fill="#2b2b2b" stroke="#2b2b2b" stroke-width="0.4" textLength="4.95" lengthAdjust="spacingAndGlyphs">0</text>
<text x="138.52" y="226.30" font-size="11.4" fill="#2b2b2b" stroke="#2b2b2b" stroke-width="0.4" textLength="7.13" lengthAdjust="spacingAndGlyphs">%</text>
<rect x="116.10" y="228.50" width="16.70" height="12.80" fill="#8AAAD3" rx="1"/>
<text x="118.25" y="239.00" font-size="11.4" fill="#2b2b2b" stroke="#2b2b2b" stroke-width="0.4" textLength="4.86" lengthAdjust="spacingAndGlyphs">6</text>
<text x="123.65" y="239.00" font-size="11.4" fill="#2b2b2b" stroke="#2b2b2b" stroke-width="0.4" textLength="6.99" lengthAdjust="spacingAndGlyphs">%</text>
<rect x="141.20" y="235.90" width="16.30" height="13.60" fill="#E8DEBE" rx="1"/>
<text x="143.15" y="246.80" font-size="11.4" fill="#2b2b2b" stroke="#2b2b2b" stroke-width="0.4" textLength="4.86" lengthAdjust="spacingAndGlyphs">6</text>
<text x="148.55" y="246.80" font-size="11.4" fill="#2b2b2b" stroke="#2b2b2b" stroke-width="0.4" textLength="6.99" lengthAdjust="spacingAndGlyphs">%</text>
<rect x="116.10" y="242.70" width="16.70" height="12.90" fill="#3C9BDD" rx="1"/>
<text x="118.25" y="253.25" font-size="11.4" fill="#e6eef5" stroke="#e6eef5" stroke-width="0.12" textLength="4.86" lengthAdjust="spacingAndGlyphs">5</text>
<text x="123.65" y="253.25" font-size="11.4" fill="#e6eef5" stroke="#e6eef5" stroke-width="0.12" textLength="6.99" lengthAdjust="spacingAndGlyphs">%</text>
<text x="203.80" y="195.05" font-size="11.4" fill="#e6eef5" stroke="#e6eef5" stroke-width="0.12" textLength="4.86" lengthAdjust="spacingAndGlyphs">9</text>
<text x="209.20" y="195.05" font-size="11.4" fill="#e6eef5" stroke="#e6eef5" stroke-width="0.12" textLength="6.99" lengthAdjust="spacingAndGlyphs">%</text>
<text x="189.50" y="209.20" font-size="11.4" fill="#2b2b2b" stroke="#2b2b2b" stroke-width="0.4" textLength="4.90" lengthAdjust="spacingAndGlyphs">1</text>
<text x="194.40" y="209.20" font-size="11.4" fill="#2b2b2b" stroke="#2b2b2b" stroke-width="0.4" textLength="4.90" lengthAdjust="spacingAndGlyphs">1</text>
<text x="199.85" y="209.20" font-size="11.4" fill="#2b2b2b" stroke="#2b2b2b" stroke-width="0.4" textLength="7.05" lengthAdjust="spacingAndGlyphs">%</text>
<rect x="214.60" y="208.40" width="16.50" height="12.90" fill="#9EC4B8" rx="1"/>
<text x="216.65" y="218.95" font-size="11.4" fill="#2b2b2b" stroke="#2b2b2b" stroke-width="0.4" textLength="4.86" lengthAdjust="spacingAndGlyphs">3</text>
<text x="222.05" y="218.95" font-size="11.4" fill="#2b2b2b" stroke="#2b2b2b" stroke-width="0.4" textLength="6.99" lengthAdjust="spacingAndGlyphs">%</text>
<rect x="189.80" y="215.20" width="15.90" height="12.20" fill="#8AAAD3" rx="1"/>
<text x="191.55" y="225.40" font-size="11.4" fill="#2b2b2b" stroke="#2b2b2b" stroke-width="0.4" textLength="4.86" lengthAdjust="spacingAndGlyphs">6</text>
<text x="196.95" y="225.40" font-size="11.4" fill="#2b2b2b" stroke="#2b2b2b" stroke-width="0.4" textLength="6.99" lengthAdjust="spacingAndGlyphs">%</text>
<rect x="214.60" y="223.30" width="16.50" height="11.80" fill="#E8DEBE" rx="1"/>
<text x="216.65" y="233.30" font-size="11.4" fill="#2b2b2b" stroke="#2b2b2b" stroke-width="0.4" textLength="4.86" lengthAdjust="spacingAndGlyphs">5</text>
<text x="222.05" y="233.30" font-size="11.4" fill="#2b2b2b" stroke="#2b2b2b" stroke-width="0.4" textLength="6.99" lengthAdjust="spacingAndGlyphs">%</text>
<rect x="189.80" y="229.40" width="15.90" height="14.90" fill="#3C9BDD" rx="1"/>
<text x="191.55" y="240.95" font-size="11.4" fill="#e6eef5" stroke="#e6eef5" stroke-width="0.12" textLength="4.86" lengthAdjust="spacingAndGlyphs">5</text>
<text x="196.95" y="240.95" font-size="11.4" fill="#e6eef5" stroke="#e6eef5" stroke-width="0.12" textLength="6.99" lengthAdjust="spacingAndGlyphs">%</text>
<text x="277.25" y="209.00" font-size="11.4" fill="#e6eef5" stroke="#e6eef5" stroke-width="0.12" textLength="4.86" lengthAdjust="spacingAndGlyphs">9</text>
<text x="282.65" y="209.00" font-size="11.4" fill="#e6eef5" stroke="#e6eef5" stroke-width="0.12" textLength="6.99" lengthAdjust="spacingAndGlyphs">%</text>
<text x="274.65" y="223.20" font-size="11.4" fill="#2b2b2b" stroke="#2b2b2b" stroke-width="0.4" textLength="4.95" lengthAdjust="spacingAndGlyphs">1</text>
<text x="279.60" y="223.20" font-size="11.4" fill="#2b2b2b" stroke="#2b2b2b" stroke-width="0.4" textLength="4.95" lengthAdjust="spacingAndGlyphs">3</text>
<text x="285.12" y="223.20" font-size="11.4" fill="#2b2b2b" stroke="#2b2b2b" stroke-width="0.4" textLength="7.13" lengthAdjust="spacingAndGlyphs">%</text>
<rect x="263.10" y="227.50" width="16.70" height="12.90" fill="#8AAAD3" rx="1"/>
<text x="265.25" y="238.05" font-size="11.4" fill="#2b2b2b" stroke="#2b2b2b" stroke-width="0.4" textLength="4.86" lengthAdjust="spacingAndGlyphs">6</text>
<text x="270.65" y="238.05" font-size="11.4" fill="#2b2b2b" stroke="#2b2b2b" stroke-width="0.4" textLength="6.99" lengthAdjust="spacingAndGlyphs">%</text>
<rect x="287.50" y="235.70" width="16.30" height="12.40" fill="#E8DEBE" rx="1"/>
<text x="289.45" y="246.00" font-size="11.4" fill="#2b2b2b" stroke="#2b2b2b" stroke-width="0.4" textLength="4.86" lengthAdjust="spacingAndGlyphs">5</text>
<text x="294.85" y="246.00" font-size="11.4" fill="#2b2b2b" stroke="#2b2b2b" stroke-width="0.4" textLength="6.99" lengthAdjust="spacingAndGlyphs">%</text>
<rect x="263.10" y="242.40" width="16.70" height="13.10" fill="#3C9BDD" rx="1"/>
<text x="265.25" y="253.05" font-size="11.4" fill="#e6eef5" stroke="#e6eef5" stroke-width="0.12" textLength="4.86" lengthAdjust="spacingAndGlyphs">5</text>
<text x="270.65" y="253.05" font-size="11.4" fill="#e6eef5" stroke="#e6eef5" stroke-width="0.12" textLength="6.99" lengthAdjust="spacingAndGlyphs">%</text>
<text x="350.60" y="194.40" font-size="11.4" fill="#e6eef5" stroke="#e6eef5" stroke-width="0.12" textLength="4.86" lengthAdjust="spacingAndGlyphs">9</text>
<text x="356.00" y="194.40" font-size="11.4" fill="#e6eef5" stroke="#e6eef5" stroke-width="0.12" textLength="6.99" lengthAdjust="spacingAndGlyphs">%</text>
<text x="336.10" y="210.00" font-size="11.4" fill="#2b2b2b" stroke="#2b2b2b" stroke-width="0.4" textLength="4.95" lengthAdjust="spacingAndGlyphs">1</text>
<text x="341.05" y="210.00" font-size="11.4" fill="#2b2b2b" stroke="#2b2b2b" stroke-width="0.4" textLength="4.95" lengthAdjust="spacingAndGlyphs">2</text>
<text x="346.57" y="210.00" font-size="11.4" fill="#2b2b2b" stroke="#2b2b2b" stroke-width="0.4" textLength="7.13" lengthAdjust="spacingAndGlyphs">%</text>
<rect x="360.50" y="209.10" width="16.50" height="14.30" fill="#9EC4B8" rx="1"/>
<text x="362.55" y="220.35" font-size="11.4" fill="#2b2b2b" stroke="#2b2b2b" stroke-width="0.4" textLength="4.86" lengthAdjust="spacingAndGlyphs">3</text>
<text x="367.95" y="220.35" font-size="11.4" fill="#2b2b2b" stroke="#2b2b2b" stroke-width="0.4" textLength="6.99" lengthAdjust="spacingAndGlyphs">%</text>
<rect x="336.80" y="215.90" width="16.30" height="12.90" fill="#8AAAD3" rx="1"/>
<text x="338.75" y="226.45" font-size="11.4" fill="#2b2b2b" stroke="#2b2b2b" stroke-width="0.4" textLength="4.86" lengthAdjust="spacingAndGlyphs">6</text>
<text x="344.15" y="226.45" font-size="11.4" fill="#2b2b2b" stroke="#2b2b2b" stroke-width="0.4" textLength="6.99" lengthAdjust="spacingAndGlyphs">%</text>
<rect x="360.50" y="224.70" width="16.50" height="11.70" fill="#E8DEBE" rx="1"/>
<text x="362.55" y="234.65" font-size="11.4" fill="#2b2b2b" stroke="#2b2b2b" stroke-width="0.4" textLength="4.86" lengthAdjust="spacingAndGlyphs">5</text>
<text x="367.95" y="234.65" font-size="11.4" fill="#2b2b2b" stroke="#2b2b2b" stroke-width="0.4" textLength="6.99" lengthAdjust="spacingAndGlyphs">%</text>
<rect x="336.80" y="231.00" width="16.30" height="13.50" fill="#3C9BDD" rx="1"/>
<text x="338.75" y="241.85" font-size="11.4" fill="#e6eef5" stroke="#e6eef5" stroke-width="0.12" textLength="4.86" lengthAdjust="spacingAndGlyphs">5</text>
<text x="344.15" y="241.85" font-size="11.4" fill="#e6eef5" stroke="#e6eef5" stroke-width="0.12" textLength="6.99" lengthAdjust="spacingAndGlyphs">%</text>
<text x="421.35" y="175.85" font-size="11.4" fill="#e6eef5" stroke="#e6eef5" stroke-width="0.12" textLength="4.95" lengthAdjust="spacingAndGlyphs">1</text>
<text x="426.30" y="175.85" font-size="11.4" fill="#e6eef5" stroke="#e6eef5" stroke-width="0.12" textLength="4.95" lengthAdjust="spacingAndGlyphs">0</text>
<text x="431.82" y="175.85" font-size="11.4" fill="#e6eef5" stroke="#e6eef5" stroke-width="0.12" textLength="7.13" lengthAdjust="spacingAndGlyphs">%</text>
<text x="409.20" y="192.30" font-size="11.4" fill="#2b2b2b" stroke="#2b2b2b" stroke-width="0.4" textLength="4.84" lengthAdjust="spacingAndGlyphs">1</text>
<text x="414.04" y="192.30" font-size="11.4" fill="#2b2b2b" stroke="#2b2b2b" stroke-width="0.4" textLength="4.84" lengthAdjust="spacingAndGlyphs">1</text>
<text x="419.43" y="192.30" font-size="11.4" fill="#2b2b2b" stroke="#2b2b2b" stroke-width="0.4" textLength="6.97" lengthAdjust="spacingAndGlyphs">%</text>
<rect x="433.60" y="193.20" width="17.20" height="13.10" fill="#9EC4B8" rx="1"/>
<text x="436.00" y="203.85" font-size="11.4" fill="#2b2b2b" stroke="#2b2b2b" stroke-width="0.4" textLength="4.86" lengthAdjust="spacingAndGlyphs">3</text>
<text x="441.40" y="203.85" font-size="11.4" fill="#2b2b2b" stroke="#2b2b2b" stroke-width="0.4" textLength="6.99" lengthAdjust="spacingAndGlyphs">%</text>
<rect x="406.80" y="201.10" width="18.90" height="12.90" fill="#8AAAD3" rx="1"/>
<text x="410.05" y="211.65" font-size="11.4" fill="#2b2b2b" stroke="#2b2b2b" stroke-width="0.4" textLength="4.86" lengthAdjust="spacingAndGlyphs">6</text>
<text x="415.45" y="211.65" font-size="11.4" fill="#2b2b2b" stroke="#2b2b2b" stroke-width="0.4" textLength="6.99" lengthAdjust="spacingAndGlyphs">%</text>
<rect x="433.90" y="209.20" width="16.90" height="13.60" fill="#E8DEBE" rx="1"/>
<text x="436.15" y="220.10" font-size="11.4" fill="#2b2b2b" stroke="#2b2b2b" stroke-width="0.4" textLength="4.86" lengthAdjust="spacingAndGlyphs">4</text>
<text x="441.55" y="220.10" font-size="11.4" fill="#2b2b2b" stroke="#2b2b2b" stroke-width="0.4" textLength="6.99" lengthAdjust="spacingAndGlyphs">%</text>
<rect x="409.20" y="217.40" width="16.50" height="13.50" fill="#3C9BDD" rx="1"/>
<text x="411.25" y="228.25" font-size="11.4" fill="#e6eef5" stroke="#e6eef5" stroke-width="0.12" textLength="4.86" lengthAdjust="spacingAndGlyphs">5</text>
<text x="416.65" y="228.25" font-size="11.4" fill="#e6eef5" stroke="#e6eef5" stroke-width="0.12" textLength="6.99" lengthAdjust="spacingAndGlyphs">%</text>
<text x="568.05" y="101.55" font-size="11.4" fill="#e6eef5" stroke="#e6eef5" stroke-width="0.12" textLength="4.95" lengthAdjust="spacingAndGlyphs">1</text>
<text x="573.00" y="101.55" font-size="11.4" fill="#e6eef5" stroke="#e6eef5" stroke-width="0.12" textLength="4.95" lengthAdjust="spacingAndGlyphs">1</text>
<text x="578.52" y="101.55" font-size="11.4" fill="#e6eef5" stroke="#e6eef5" stroke-width="0.12" textLength="7.13" lengthAdjust="spacingAndGlyphs">%</text>
<text x="568.05" y="130.70" font-size="11.4" fill="#2b2b2b" stroke="#2b2b2b" stroke-width="0.4" textLength="4.95" lengthAdjust="spacingAndGlyphs">1</text>
<text x="573.00" y="130.70" font-size="11.4" fill="#2b2b2b" stroke="#2b2b2b" stroke-width="0.4" textLength="4.95" lengthAdjust="spacingAndGlyphs">3</text>
<text x="578.52" y="130.70" font-size="11.4" fill="#2b2b2b" stroke="#2b2b2b" stroke-width="0.4" textLength="7.13" lengthAdjust="spacingAndGlyphs">%</text>
<rect x="555.80" y="140.10" width="17.00" height="13.20" fill="#9EC4B8" rx="1"/>
<text x="558.10" y="150.80" font-size="11.4" fill="#2b2b2b" stroke="#2b2b2b" stroke-width="0.4" textLength="4.86" lengthAdjust="spacingAndGlyphs">3</text>
<text x="563.50" y="150.80" font-size="11.4" fill="#2b2b2b" stroke="#2b2b2b" stroke-width="0.4" textLength="6.99" lengthAdjust="spacingAndGlyphs">%</text>
<text x="583.00" y="160.70" font-size="11.4" fill="#2b2b2b" stroke="#2b2b2b" stroke-width="0.4" textLength="4.86" lengthAdjust="spacingAndGlyphs">6</text>
<text x="588.40" y="160.70" font-size="11.4" fill="#2b2b2b" stroke="#2b2b2b" stroke-width="0.4" textLength="6.99" lengthAdjust="spacingAndGlyphs">%</text>
<rect x="555.80" y="161.70" width="17.00" height="13.30" fill="#E8DEBE" rx="1"/>
<text x="558.10" y="172.45" font-size="11.4" fill="#2b2b2b" stroke="#2b2b2b" stroke-width="0.4" textLength="4.86" lengthAdjust="spacingAndGlyphs">4</text>
<text x="563.50" y="172.45" font-size="11.4" fill="#2b2b2b" stroke="#2b2b2b" stroke-width="0.4" textLength="6.99" lengthAdjust="spacingAndGlyphs">%</text>
<text x="570.65" y="184.75" font-size="11.4" fill="#e6eef5" stroke="#e6eef5" stroke-width="0.12" textLength="4.86" lengthAdjust="spacingAndGlyphs">6</text>
<text x="576.05" y="184.75" font-size="11.4" fill="#e6eef5" stroke="#e6eef5" stroke-width="0.12" textLength="6.99" lengthAdjust="spacingAndGlyphs">%</text>
<line x1="84.0" y1="238.6" x2="89.7" y2="238.6" stroke="#2f4a40" stroke-width="1.3"/>
<text x="90.80" y="243.20" font-size="11.4" fill="#333" stroke="#333" stroke-width="0.4" textLength="4.70" lengthAdjust="spacingAndGlyphs">3</text>
<text x="96.03" y="243.20" font-size="11.4" fill="#333" stroke="#333" stroke-width="0.4" textLength="6.76" lengthAdjust="spacingAndGlyphs">%</text>
<line x1="81.4" y1="255.9" x2="89.7" y2="255.9" stroke="#1c3560" stroke-width="1.3"/>
<text x="90.80" y="260.30" font-size="11.4" fill="#333" stroke="#333" stroke-width="0.4" textLength="4.70" lengthAdjust="spacingAndGlyphs">5</text>
<text x="96.03" y="260.30" font-size="11.4" fill="#333" stroke="#333" stroke-width="0.4" textLength="6.76" lengthAdjust="spacingAndGlyphs">%</text>
<line x1="154.9" y1="229.4" x2="162.7" y2="229.4" stroke="#333" stroke-width="1.3"/>
<text x="164.50" y="234.00" font-size="11.4" fill="#333" stroke="#333" stroke-width="0.4" textLength="4.70" lengthAdjust="spacingAndGlyphs">3</text>
<text x="169.73" y="234.00" font-size="11.4" fill="#333" stroke="#333" stroke-width="0.4" textLength="6.76" lengthAdjust="spacingAndGlyphs">%</text>
<line x1="301.0" y1="228.8" x2="309.8" y2="228.8" stroke="#333" stroke-width="1.3"/>
<text x="311.00" y="233.00" font-size="11.4" fill="#333" stroke="#333" stroke-width="0.4" textLength="4.70" lengthAdjust="spacingAndGlyphs">3</text>
<text x="316.23" y="233.00" font-size="11.4" fill="#333" stroke="#333" stroke-width="0.4" textLength="6.76" lengthAdjust="spacingAndGlyphs">%</text>
<line x1="63.3" y1="183.1" x2="127.40" y2="172.86" stroke="#1a1a1a" stroke-width="1.3"/>
<polygon points="135.30,171.60 128.00,176.61 126.80,169.11" fill="#111"/>
<line x1="135.3" y1="171.6" x2="201.77" y2="154.04" stroke="#1a1a1a" stroke-width="1.3"/>
<polygon points="209.50,152.00 202.74,157.72 200.79,150.37" fill="#111"/>
<line x1="209.5" y1="152.0" x2="274.93" y2="164.05" stroke="#1a1a1a" stroke-width="1.3"/>
<polygon points="282.80,165.50 274.24,167.79 275.62,160.31" fill="#111"/>
<line x1="282.8" y1="165.5" x2="347.76" y2="152.47" stroke="#1a1a1a" stroke-width="1.3"/>
<polygon points="355.60,150.90 348.50,156.20 347.01,148.75" fill="#111"/>
<line x1="355.6" y1="150.9" x2="421.97" y2="133.07" stroke="#1a1a1a" stroke-width="1.3"/>
<polygon points="429.70,131.00 422.96,136.74 420.99,129.40" fill="#111"/>
<line x1="429.7" y1="131.0" x2="569.17" y2="55.12" stroke="#1a1a1a" stroke-width="1.3"/>
<polygon points="576.20,51.30 570.99,58.46 567.36,51.79" fill="#111"/>
<ellipse cx="100.0" cy="177.2" rx="17.15" ry="8.75" fill="#fff" stroke="#1a1a1a" stroke-width="1.3"/>
<text x="88.10" y="181.40" font-size="11.2" fill="#1a1a1a" font-weight="bold" stroke="#1a1a1a" stroke-width="0.3" textLength="5.41" lengthAdjust="spacingAndGlyphs">+</text>
<text x="93.51" y="181.40" font-size="11.2" fill="#1a1a1a" font-weight="bold" stroke="#1a1a1a" stroke-width="0.3" textLength="5.15" lengthAdjust="spacingAndGlyphs">1</text>
<text x="98.66" y="181.40" font-size="11.2" fill="#1a1a1a" font-weight="bold" stroke="#1a1a1a" stroke-width="0.3" textLength="5.15" lengthAdjust="spacingAndGlyphs">1</text>
<text x="104.38" y="181.40" font-size="11.2" fill="#1a1a1a" font-weight="bold" stroke="#1a1a1a" stroke-width="0.3" textLength="7.41" lengthAdjust="spacingAndGlyphs">%</text>
<ellipse cx="173.1" cy="161.4" rx="17.05" ry="8.95" fill="#fff" stroke="#1a1a1a" stroke-width="1.3"/>
<text x="161.40" y="164.80" font-size="11.2" fill="#1a1a1a" font-weight="bold" stroke="#1a1a1a" stroke-width="0.3" textLength="5.34" lengthAdjust="spacingAndGlyphs">+</text>
<text x="166.74" y="164.80" font-size="11.2" fill="#1a1a1a" font-weight="bold" stroke="#1a1a1a" stroke-width="0.3" textLength="5.08" lengthAdjust="spacingAndGlyphs">1</text>
<text x="171.82" y="164.80" font-size="11.2" fill="#1a1a1a" font-weight="bold" stroke="#1a1a1a" stroke-width="0.3" textLength="5.08" lengthAdjust="spacingAndGlyphs">6</text>
<text x="177.48" y="164.80" font-size="11.2" fill="#1a1a1a" font-weight="bold" stroke="#1a1a1a" stroke-width="0.3" textLength="7.32" lengthAdjust="spacingAndGlyphs">%</text>
<ellipse cx="248.5" cy="158.75" rx="18.45" ry="8.95" fill="#fff" stroke="#1a1a1a" stroke-width="1.3"/>
<text x="238.00" y="162.60" font-size="11.2" fill="#1a1a1a" font-weight="bold" stroke="#1a1a1a" stroke-width="0.3" textLength="3.06" lengthAdjust="spacingAndGlyphs">-</text>
<text x="241.06" y="162.60" font-size="11.2" fill="#1a1a1a" font-weight="bold" stroke="#1a1a1a" stroke-width="0.3" textLength="5.11" lengthAdjust="spacingAndGlyphs">1</text>
<text x="246.16" y="162.60" font-size="11.2" fill="#1a1a1a" font-weight="bold" stroke="#1a1a1a" stroke-width="0.3" textLength="5.11" lengthAdjust="spacingAndGlyphs">0</text>
<text x="251.85" y="162.60" font-size="11.2" fill="#1a1a1a" font-weight="bold" stroke="#1a1a1a" stroke-width="0.3" textLength="7.35" lengthAdjust="spacingAndGlyphs">%</text>
<ellipse cx="320.0" cy="158.35" rx="17.35" ry="9.05" fill="#fff" stroke="#1a1a1a" stroke-width="1.3"/>
<text x="308.30" y="161.30" font-size="11.2" fill="#1a1a1a" font-weight="bold" stroke="#1a1a1a" stroke-width="0.3" textLength="5.29" lengthAdjust="spacingAndGlyphs">+</text>
<text x="313.59" y="161.30" font-size="11.2" fill="#1a1a1a" font-weight="bold" stroke="#1a1a1a" stroke-width="0.3" textLength="5.04" lengthAdjust="spacingAndGlyphs">1</text>
<text x="318.63" y="161.30" font-size="11.2" fill="#1a1a1a" font-weight="bold" stroke="#1a1a1a" stroke-width="0.3" textLength="5.04" lengthAdjust="spacingAndGlyphs">2</text>
<text x="324.24" y="161.30" font-size="11.2" fill="#1a1a1a" font-weight="bold" stroke="#1a1a1a" stroke-width="0.3" textLength="7.25" lengthAdjust="spacingAndGlyphs">%</text>
<ellipse cx="391.8" cy="141.0" rx="19.25" ry="8.95" fill="#fff" stroke="#1a1a1a" stroke-width="1.3"/>
<text x="379.60" y="144.50" font-size="11.2" fill="#1a1a1a" font-weight="bold" stroke="#1a1a1a" stroke-width="0.3" textLength="5.34" lengthAdjust="spacingAndGlyphs">+</text>
<text x="384.94" y="144.50" font-size="11.2" fill="#1a1a1a" font-weight="bold" stroke="#1a1a1a" stroke-width="0.3" textLength="5.08" lengthAdjust="spacingAndGlyphs">1</text>
<text x="390.02" y="144.50" font-size="11.2" fill="#1a1a1a" font-weight="bold" stroke="#1a1a1a" stroke-width="0.3" textLength="5.08" lengthAdjust="spacingAndGlyphs">3</text>
<text x="395.68" y="144.50" font-size="11.2" fill="#1a1a1a" font-weight="bold" stroke="#1a1a1a" stroke-width="0.3" textLength="7.32" lengthAdjust="spacingAndGlyphs">%</text>
<ellipse cx="503.0" cy="90.75" rx="13.35" ry="9.35" fill="#fff" stroke="#1a1a1a" stroke-width="1.3"/>
<text x="494.00" y="94.40" font-size="11.2" fill="#1a1a1a" font-weight="bold" stroke="#1a1a1a" stroke-width="0.3" textLength="5.28" lengthAdjust="spacingAndGlyphs">+</text>
<text x="499.28" y="94.40" font-size="11.2" fill="#1a1a1a" font-weight="bold" stroke="#1a1a1a" stroke-width="0.3" textLength="5.02" lengthAdjust="spacingAndGlyphs">8</text>
<text x="504.86" y="94.40" font-size="11.2" fill="#1a1a1a" font-weight="bold" stroke="#1a1a1a" stroke-width="0.3" textLength="7.23" lengthAdjust="spacingAndGlyphs">%</text>
<text x="644.80" y="61.60" font-size="11.4" fill="#333" stroke="#333" stroke-width="0.4" textLength="24.69" lengthAdjust="spacingAndGlyphs">CAGR</text>
<text x="634.00" y="72.10" font-size="11.4" fill="#333" stroke="#333" stroke-width="0.4" textLength="5.35" lengthAdjust="spacingAndGlyphs">2</text>
<text x="639.35" y="72.10" font-size="11.4" fill="#333" stroke="#333" stroke-width="0.4" textLength="5.35" lengthAdjust="spacingAndGlyphs">0</text>
<text x="644.70" y="72.10" font-size="11.4" fill="#333" stroke="#333" stroke-width="0.4" textLength="5.35" lengthAdjust="spacingAndGlyphs">1</text>
<text x="650.05" y="72.10" font-size="11.4" fill="#333" stroke="#333" stroke-width="0.4" textLength="5.35" lengthAdjust="spacingAndGlyphs">9</text>
<text x="655.40" y="72.10" font-size="11.4" fill="#333" stroke="#333" stroke-width="0.4" textLength="3.20" lengthAdjust="spacingAndGlyphs">-</text>
<text x="658.61" y="72.10" font-size="11.4" fill="#333" stroke="#333" stroke-width="0.4" textLength="5.35" lengthAdjust="spacingAndGlyphs">2</text>
<text x="663.96" y="72.10" font-size="11.4" fill="#333" stroke="#333" stroke-width="0.4" textLength="5.35" lengthAdjust="spacingAndGlyphs">0</text>
<text x="669.31" y="72.10" font-size="11.4" fill="#333" stroke="#333" stroke-width="0.4" textLength="5.35" lengthAdjust="spacingAndGlyphs">2</text>
<text x="674.66" y="72.10" font-size="11.4" fill="#333" stroke="#333" stroke-width="0.4" textLength="5.35" lengthAdjust="spacingAndGlyphs">4</text>
<text x="713.50" y="61.60" font-size="11.4" fill="#333" stroke="#333" stroke-width="0.4" textLength="25.29" lengthAdjust="spacingAndGlyphs">CAGR</text>
<text x="700.30" y="72.10" font-size="11.4" fill="#333" stroke="#333" stroke-width="0.4" textLength="5.34" lengthAdjust="spacingAndGlyphs">2</text>
<text x="705.64" y="72.10" font-size="11.4" fill="#333" stroke="#333" stroke-width="0.4" textLength="5.34" lengthAdjust="spacingAndGlyphs">0</text>
<text x="710.99" y="72.10" font-size="11.4" fill="#333" stroke="#333" stroke-width="0.4" textLength="5.34" lengthAdjust="spacingAndGlyphs">2</text>
<text x="716.33" y="72.10" font-size="11.4" fill="#333" stroke="#333" stroke-width="0.4" textLength="5.34" lengthAdjust="spacingAndGlyphs">4</text>
<text x="721.67" y="72.10" font-size="11.4" fill="#333" stroke="#333" stroke-width="0.4" textLength="3.20" lengthAdjust="spacingAndGlyphs">-</text>
<text x="724.87" y="72.10" font-size="11.4" fill="#333" stroke="#333" stroke-width="0.4" textLength="5.34" lengthAdjust="spacingAndGlyphs">2</text>
<text x="730.21" y="72.10" font-size="11.4" fill="#333" stroke="#333" stroke-width="0.4" textLength="5.34" lengthAdjust="spacingAndGlyphs">0</text>
<text x="735.56" y="72.10" font-size="11.4" fill="#333" stroke="#333" stroke-width="0.4" textLength="5.34" lengthAdjust="spacingAndGlyphs">2</text>
<text x="740.90" y="72.10" font-size="11.4" fill="#333" stroke="#333" stroke-width="0.4" textLength="5.34" lengthAdjust="spacingAndGlyphs">9</text>
<text x="746.24" y="72.10" font-size="11.4" fill="#333" stroke="#333" stroke-width="0.4" textLength="5.87" lengthAdjust="spacingAndGlyphs">F</text>
<ellipse cx="656.8" cy="95.90" rx="31.3" ry="9.9" fill="#828282"/>
<text x="648.35" y="99.60" font-size="11.4" fill="#e6eef5" stroke="#e6eef5" stroke-width="0.12" textLength="5.10" lengthAdjust="spacingAndGlyphs">+</text>
<text x="653.45" y="99.60" font-size="11.4" fill="#e6eef5" stroke="#e6eef5" stroke-width="0.12" textLength="4.86" lengthAdjust="spacingAndGlyphs">8</text>
<text x="658.85" y="99.60" font-size="11.4" fill="#e6eef5" stroke="#e6eef5" stroke-width="0.12" textLength="6.99" lengthAdjust="spacingAndGlyphs">%</text>
<ellipse cx="726.7" cy="95.90" rx="30.9" ry="9.9" fill="#828282"/>
<text x="715.35" y="99.60" font-size="11.4" fill="#e6eef5" stroke="#e6eef5" stroke-width="0.12" textLength="5.32" lengthAdjust="spacingAndGlyphs">+</text>
<text x="720.67" y="99.60" font-size="11.4" fill="#e6eef5" stroke="#e6eef5" stroke-width="0.12" textLength="5.06" lengthAdjust="spacingAndGlyphs">1</text>
<text x="725.73" y="99.60" font-size="11.4" fill="#e6eef5" stroke="#e6eef5" stroke-width="0.12" textLength="5.06" lengthAdjust="spacingAndGlyphs">1</text>
<text x="731.36" y="99.60" font-size="11.4" fill="#e6eef5" stroke="#e6eef5" stroke-width="0.12" textLength="7.28" lengthAdjust="spacingAndGlyphs">%</text>
<ellipse cx="656.8" cy="122.60" rx="31.3" ry="9.9" fill="#9DD2EE"/>
<text x="645.45" y="126.30" font-size="11.4" fill="#2b2b2b" stroke="#2b2b2b" stroke-width="0.4" textLength="5.32" lengthAdjust="spacingAndGlyphs">+</text>
<text x="650.77" y="126.30" font-size="11.4" fill="#2b2b2b" stroke="#2b2b2b" stroke-width="0.4" textLength="5.06" lengthAdjust="spacingAndGlyphs">1</text>
<text x="655.83" y="126.30" font-size="11.4" fill="#2b2b2b" stroke="#2b2b2b" stroke-width="0.4" textLength="5.06" lengthAdjust="spacingAndGlyphs">2</text>
<text x="661.46" y="126.30" font-size="11.4" fill="#2b2b2b" stroke="#2b2b2b" stroke-width="0.4" textLength="7.28" lengthAdjust="spacingAndGlyphs">%</text>
<ellipse cx="726.7" cy="122.60" rx="30.9" ry="9.9" fill="#9DD2EE"/>
<text x="715.35" y="126.30" font-size="11.4" fill="#2b2b2b" stroke="#2b2b2b" stroke-width="0.4" textLength="5.32" lengthAdjust="spacingAndGlyphs">+</text>
<text x="720.67" y="126.30" font-size="11.4" fill="#2b2b2b" stroke="#2b2b2b" stroke-width="0.4" textLength="5.06" lengthAdjust="spacingAndGlyphs">1</text>
<text x="725.73" y="126.30" font-size="11.4" fill="#2b2b2b" stroke="#2b2b2b" stroke-width="0.4" textLength="5.06" lengthAdjust="spacingAndGlyphs">2</text>
<text x="731.36" y="126.30" font-size="11.4" fill="#2b2b2b" stroke="#2b2b2b" stroke-width="0.4" textLength="7.28" lengthAdjust="spacingAndGlyphs">%</text>
<ellipse cx="656.8" cy="149.30" rx="31.3" ry="9.9" fill="#9EC4B8"/>
<text x="645.45" y="153.00" font-size="11.4" fill="#2b2b2b" stroke="#2b2b2b" stroke-width="0.4" textLength="5.32" lengthAdjust="spacingAndGlyphs">+</text>
<text x="650.77" y="153.00" font-size="11.4" fill="#2b2b2b" stroke="#2b2b2b" stroke-width="0.4" textLength="5.06" lengthAdjust="spacingAndGlyphs">1</text>
<text x="655.83" y="153.00" font-size="11.4" fill="#2b2b2b" stroke="#2b2b2b" stroke-width="0.4" textLength="5.06" lengthAdjust="spacingAndGlyphs">0</text>
<text x="661.46" y="153.00" font-size="11.4" fill="#2b2b2b" stroke="#2b2b2b" stroke-width="0.4" textLength="7.28" lengthAdjust="spacingAndGlyphs">%</text>
<ellipse cx="726.7" cy="149.30" rx="30.9" ry="9.9" fill="#9EC4B8"/>
<text x="718.25" y="153.00" font-size="11.4" fill="#2b2b2b" stroke="#2b2b2b" stroke-width="0.4" textLength="5.10" lengthAdjust="spacingAndGlyphs">+</text>
<text x="723.35" y="153.00" font-size="11.4" fill="#2b2b2b" stroke="#2b2b2b" stroke-width="0.4" textLength="4.86" lengthAdjust="spacingAndGlyphs">7</text>
<text x="728.75" y="153.00" font-size="11.4" fill="#2b2b2b" stroke="#2b2b2b" stroke-width="0.4" textLength="6.99" lengthAdjust="spacingAndGlyphs">%</text>
<ellipse cx="656.8" cy="176.00" rx="31.3" ry="9.9" fill="#8AAAD3"/>
<text x="645.45" y="179.70" font-size="11.4" fill="#2b2b2b" stroke="#2b2b2b" stroke-width="0.4" textLength="5.32" lengthAdjust="spacingAndGlyphs">+</text>
<text x="650.77" y="179.70" font-size="11.4" fill="#2b2b2b" stroke="#2b2b2b" stroke-width="0.4" textLength="5.06" lengthAdjust="spacingAndGlyphs">1</text>
<text x="655.83" y="179.70" font-size="11.4" fill="#2b2b2b" stroke="#2b2b2b" stroke-width="0.4" textLength="5.06" lengthAdjust="spacingAndGlyphs">0</text>
<text x="661.46" y="179.70" font-size="11.4" fill="#2b2b2b" stroke="#2b2b2b" stroke-width="0.4" textLength="7.28" lengthAdjust="spacingAndGlyphs">%</text>
<ellipse cx="726.7" cy="176.00" rx="30.9" ry="9.9" fill="#8AAAD3"/>
<text x="718.25" y="179.70" font-size="11.4" fill="#2b2b2b" stroke="#2b2b2b" stroke-width="0.4" textLength="5.10" lengthAdjust="spacingAndGlyphs">+</text>
<text x="723.35" y="179.70" font-size="11.4" fill="#2b2b2b" stroke="#2b2b2b" stroke-width="0.4" textLength="4.86" lengthAdjust="spacingAndGlyphs">5</text>
<text x="728.75" y="179.70" font-size="11.4" fill="#2b2b2b" stroke="#2b2b2b" stroke-width="0.4" textLength="6.99" lengthAdjust="spacingAndGlyphs">%</text>
<ellipse cx="656.8" cy="202.70" rx="31.3" ry="9.9" fill="#E8DEBE"/>
<text x="648.35" y="206.40" font-size="11.4" fill="#2b2b2b" stroke="#2b2b2b" stroke-width="0.4" textLength="5.10" lengthAdjust="spacingAndGlyphs">+</text>
<text x="653.45" y="206.40" font-size="11.4" fill="#2b2b2b" stroke="#2b2b2b" stroke-width="0.4" textLength="4.86" lengthAdjust="spacingAndGlyphs">3</text>
<text x="658.85" y="206.40" font-size="11.4" fill="#2b2b2b" stroke="#2b2b2b" stroke-width="0.4" textLength="6.99" lengthAdjust="spacingAndGlyphs">%</text>
<ellipse cx="726.7" cy="202.70" rx="30.9" ry="9.9" fill="#E8DEBE"/>
<text x="718.25" y="206.40" font-size="11.4" fill="#2b2b2b" stroke="#2b2b2b" stroke-width="0.4" textLength="5.10" lengthAdjust="spacingAndGlyphs">+</text>
<text x="723.35" y="206.40" font-size="11.4" fill="#2b2b2b" stroke="#2b2b2b" stroke-width="0.4" textLength="4.86" lengthAdjust="spacingAndGlyphs">5</text>
<text x="728.75" y="206.40" font-size="11.4" fill="#2b2b2b" stroke="#2b2b2b" stroke-width="0.4" textLength="6.99" lengthAdjust="spacingAndGlyphs">%</text>
<ellipse cx="656.8" cy="229.40" rx="31.3" ry="9.9" fill="#3C9BDD"/>
<text x="648.35" y="233.10" font-size="11.4" fill="#e6eef5" stroke="#e6eef5" stroke-width="0.12" textLength="5.10" lengthAdjust="spacingAndGlyphs">+</text>
<text x="653.45" y="233.10" font-size="11.4" fill="#e6eef5" stroke="#e6eef5" stroke-width="0.12" textLength="4.86" lengthAdjust="spacingAndGlyphs">8</text>
<text x="658.85" y="233.10" font-size="11.4" fill="#e6eef5" stroke="#e6eef5" stroke-width="0.12" textLength="6.99" lengthAdjust="spacingAndGlyphs">%</text>
<ellipse cx="726.7" cy="229.40" rx="30.9" ry="9.9" fill="#3C9BDD"/>
<text x="715.35" y="233.10" font-size="11.4" fill="#e6eef5" stroke="#e6eef5" stroke-width="0.12" textLength="5.32" lengthAdjust="spacingAndGlyphs">+</text>
<text x="720.67" y="233.10" font-size="11.4" fill="#e6eef5" stroke="#e6eef5" stroke-width="0.12" textLength="5.06" lengthAdjust="spacingAndGlyphs">1</text>
<text x="725.73" y="233.10" font-size="11.4" fill="#e6eef5" stroke="#e6eef5" stroke-width="0.12" textLength="5.06" lengthAdjust="spacingAndGlyphs">3</text>
<text x="731.36" y="233.10" font-size="11.4" fill="#e6eef5" stroke="#e6eef5" stroke-width="0.12" textLength="7.28" lengthAdjust="spacingAndGlyphs">%</text>
<ellipse cx="656.8" cy="256.10" rx="31.3" ry="9.9" fill="#3A6C5A"/>
<text x="648.35" y="259.80" font-size="11.4" fill="#e6eef5" stroke="#e6eef5" stroke-width="0.12" textLength="5.10" lengthAdjust="spacingAndGlyphs">+</text>
<text x="653.45" y="259.80" font-size="11.4" fill="#e6eef5" stroke="#e6eef5" stroke-width="0.12" textLength="4.86" lengthAdjust="spacingAndGlyphs">5</text>
<text x="658.85" y="259.80" font-size="11.4" fill="#e6eef5" stroke="#e6eef5" stroke-width="0.12" textLength="6.99" lengthAdjust="spacingAndGlyphs">%</text>
<ellipse cx="726.7" cy="256.10" rx="30.9" ry="9.9" fill="#3A6C5A"/>
<text x="718.25" y="259.80" font-size="11.4" fill="#e6eef5" stroke="#e6eef5" stroke-width="0.12" textLength="5.10" lengthAdjust="spacingAndGlyphs">+</text>
<text x="723.35" y="259.80" font-size="11.4" fill="#e6eef5" stroke="#e6eef5" stroke-width="0.12" textLength="4.86" lengthAdjust="spacingAndGlyphs">6</text>
<text x="728.75" y="259.80" font-size="11.4" fill="#e6eef5" stroke="#e6eef5" stroke-width="0.12" textLength="6.99" lengthAdjust="spacingAndGlyphs">%</text>
<ellipse cx="656.8" cy="282.80" rx="31.3" ry="9.9" fill="#CBB874"/>
<text x="645.45" y="286.50" font-size="11.4" fill="#2b2b2b" stroke="#2b2b2b" stroke-width="0.4" textLength="5.32" lengthAdjust="spacingAndGlyphs">+</text>
<text x="650.77" y="286.50" font-size="11.4" fill="#2b2b2b" stroke="#2b2b2b" stroke-width="0.4" textLength="5.06" lengthAdjust="spacingAndGlyphs">1</text>
<text x="655.83" y="286.50" font-size="11.4" fill="#2b2b2b" stroke="#2b2b2b" stroke-width="0.4" textLength="5.06" lengthAdjust="spacingAndGlyphs">4</text>
<text x="661.46" y="286.50" font-size="11.4" fill="#2b2b2b" stroke="#2b2b2b" stroke-width="0.4" textLength="7.28" lengthAdjust="spacingAndGlyphs">%</text>
<ellipse cx="726.7" cy="282.80" rx="30.9" ry="9.9" fill="#CBB874"/>
<text x="715.35" y="286.50" font-size="11.4" fill="#2b2b2b" stroke="#2b2b2b" stroke-width="0.4" textLength="5.32" lengthAdjust="spacingAndGlyphs">+</text>
<text x="720.67" y="286.50" font-size="11.4" fill="#2b2b2b" stroke="#2b2b2b" stroke-width="0.4" textLength="5.06" lengthAdjust="spacingAndGlyphs">1</text>
<text x="725.73" y="286.50" font-size="11.4" fill="#2b2b2b" stroke="#2b2b2b" stroke-width="0.4" textLength="5.06" lengthAdjust="spacingAndGlyphs">1</text>
<text x="731.36" y="286.50" font-size="11.4" fill="#2b2b2b" stroke="#2b2b2b" stroke-width="0.4" textLength="7.28" lengthAdjust="spacingAndGlyphs">%</text>
<ellipse cx="656.8" cy="309.50" rx="31.3" ry="9.9" fill="#2A5CA4"/>
<text x="648.35" y="313.20" font-size="11.4" fill="#e6eef5" stroke="#e6eef5" stroke-width="0.12" textLength="5.10" lengthAdjust="spacingAndGlyphs">+</text>
<text x="653.45" y="313.20" font-size="11.4" fill="#e6eef5" stroke="#e6eef5" stroke-width="0.12" textLength="4.86" lengthAdjust="spacingAndGlyphs">6</text>
<text x="658.85" y="313.20" font-size="11.4" fill="#e6eef5" stroke="#e6eef5" stroke-width="0.12" textLength="6.99" lengthAdjust="spacingAndGlyphs">%</text>
<ellipse cx="726.7" cy="309.50" rx="30.9" ry="9.9" fill="#2A5CA4"/>
<text x="718.25" y="313.20" font-size="11.4" fill="#e6eef5" stroke="#e6eef5" stroke-width="0.12" textLength="5.10" lengthAdjust="spacingAndGlyphs">+</text>
<text x="723.35" y="313.20" font-size="11.4" fill="#e6eef5" stroke="#e6eef5" stroke-width="0.12" textLength="4.86" lengthAdjust="spacingAndGlyphs">4</text>
<text x="728.75" y="313.20" font-size="11.4" fill="#e6eef5" stroke="#e6eef5" stroke-width="0.12" textLength="6.99" lengthAdjust="spacingAndGlyphs">%</text>
<rect x="32.10" y="364.00" width="15.70" height="10.60" fill="#2A5CA4"/>
<text x="54.20" y="373.60" font-size="11.4" fill="#333" stroke="#333" stroke-width="0.4" textLength="56.40" lengthAdjust="spacingAndGlyphs">Active Equity</text>
<rect x="32.10" y="383.00" width="15.70" height="10.60" fill="#CBB874"/>
<text x="54.20" y="392.40" font-size="11.4" fill="#333" stroke="#333" stroke-width="0.4" textLength="63.29" lengthAdjust="spacingAndGlyphs">Passive Equity</text>
<rect x="133.10" y="364.00" width="15.70" height="10.60" fill="#3A6C5A"/>
<text x="155.00" y="373.60" font-size="11.4" fill="#333" stroke="#333" stroke-width="0.4" textLength="88.39" lengthAdjust="spacingAndGlyphs">Active Fixed Income</text>
<rect x="133.10" y="383.00" width="15.70" height="10.60" fill="#3C9BDD"/>
<text x="155.00" y="392.40" font-size="11.4" fill="#333" stroke="#333" stroke-width="0.4" textLength="95.62" lengthAdjust="spacingAndGlyphs">Passive Fixed Income</text>
<rect x="268.10" y="364.00" width="15.70" height="10.60" fill="#E8DEBE"/>
<text x="290.60" y="373.60" font-size="11.4" fill="#333" stroke="#333" stroke-width="0.4" textLength="49.10" lengthAdjust="spacingAndGlyphs">Multi-Asset</text>
<rect x="268.10" y="383.00" width="15.70" height="10.60" fill="#8AAAD3"/>
<text x="290.60" y="392.40" font-size="11.4" fill="#333" stroke="#333" stroke-width="0.4" textLength="61.21" lengthAdjust="spacingAndGlyphs">Money Market</text>
<rect x="368.10" y="364.00" width="15.70" height="10.60" fill="#9EC4B8"/>
<text x="390.60" y="373.60" font-size="11.4" fill="#333" stroke="#333" stroke-width="0.4" textLength="56.39" lengthAdjust="spacingAndGlyphs">Hedge Funds</text>
<rect x="368.10" y="383.00" width="15.70" height="10.60" fill="#9DD2EE"/>
<text x="390.60" y="392.40" font-size="11.4" fill="#333" stroke="#333" stroke-width="0.4" textLength="67.71" lengthAdjust="spacingAndGlyphs">Private Markets</text>
<rect x="475.00" y="364.00" width="15.70" height="10.60" fill="#828282"/>
<text x="497.10" y="373.60" font-size="11.4" fill="#333" stroke="#333" stroke-width="0.4" textLength="40.79" lengthAdjust="spacingAndGlyphs">Solutions</text>
<text x="538.80" y="369.80" font-size="7" fill="#555" stroke="#555" stroke-width="0.4" textLength="2.20" lengthAdjust="spacingAndGlyphs">1</text>
<text x="17.50" y="410.70" font-size="7.8" fill="#808080" textLength="287.20" lengthAdjust="spacingAndGlyphs">1. LDI, OCIO, Target Date Fund, Target Maturity and other outcome-oriented products.</text>
<text x="17.30" y="420.30" font-size="7.8" fill="#808080" textLength="335.78" lengthAdjust="spacingAndGlyphs">Sources: Broadridge Global Demand Model; Preqin; Oliver Wyman Global Asset Management Model.</text>
</g>
</svg></div></body></html>
